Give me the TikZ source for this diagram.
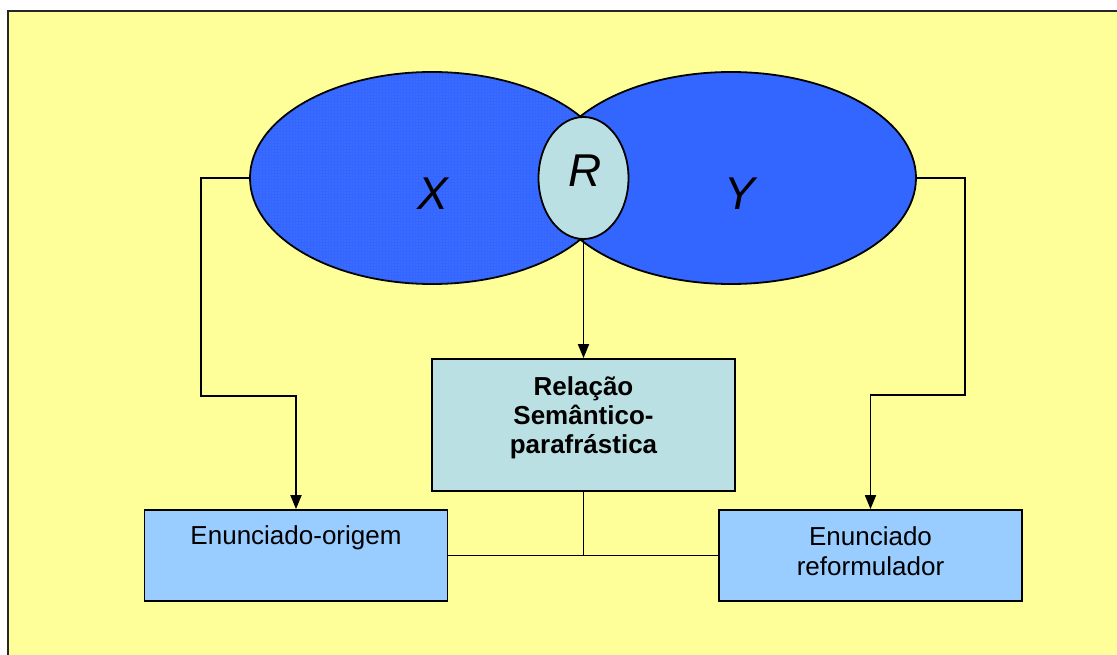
\documentclass[tikz,border=0pt]{standalone}
\usepackage{fontspec}
\setmainfont{Liberation Sans}
\usetikzlibrary{arrows.meta,positioning,shapes.geometric,patterns.meta}
\definecolor{bgyellow}{RGB}{255,255,153}
\definecolor{setblue}{RGB}{51,102,255}
\definecolor{relteal}{RGB}{187,224,227}
\definecolor{unitblue}{RGB}{153,204,255}
\definecolor{speck}{RGB}{140,170,245}

\begin{document}
\begin{tikzpicture}[
  x=1pt, y=-1pt,
  frame/.style={draw=black!85, line width=2.5pt, fill=bgyellow},
  set/.style={ellipse, draw=black, line width=1.8pt, inner sep=0pt,
              minimum height=212pt},
  box/.style={draw=black, line width=1.8pt, minimum width=303pt, inner sep=0pt},
  unit/.style={box, fill=unitblue, minimum height=91pt},
  rel/.style={box, fill=relteal, minimum height=132pt},
  big/.style={font=\fontsize{46}{50}\selectfont\itshape, inner sep=0pt},
  txt/.style={font=\fontsize{26}{30}\selectfont, align=center, inner sep=0pt},
  arr/.style={-{Triangle[length=14pt,width=11pt]}, line width=1.8pt},
  ln/.style={line width=1.8pt},
]

%% ---- PAGE + FRAME ----
\useasboundingbox (0,0) rectangle (1117,655);
\clip (0,0) rectangle (1117,655);
\draw[frame] (8,11) rectangle (1140,680);

%% ---- SETS X, Y AND RELATION R ----
\node[set, fill=setblue, minimum width=364pt,
      postaction={pattern={Dots[distance=3pt, radius=0.3pt]}, pattern color=speck}]
      (xset) at (432,178) {};
\node[set, fill=setblue, minimum width=370pt] (yset) at (731,178) {};
\node[set, fill=relteal, minimum width=90pt, minimum height=122pt] (rset) at (583.5,178) {};

\node[big] (xlbl) at (433,194) {X};
\node[big] (ylbl) at (740,194) {Y};
\node[big] (rlbl) at (585,171) {R};

%% ---- BOXES ----
\node[rel]  (relbox) at (583.5,425)  {};
\node[unit] (origem) at (296,555.5)  {};
\node[unit] (reform) at (870.5,555.5) {};

\node[txt, font=\fontsize{26}{29}\selectfont\bfseries, below=18pt of relbox.north] (reltxt)
  {Relação\\Semântico-\\parafrástica};
\node[txt, below=16pt of origem.north] (origtxt) {Enunciado-origem};
\node[txt, below=17pt of reform.north] (reftxt) {Enunciado\\reformulador};

%% ---- CONNECTORS ----
\draw[arr] (xset.west) -- ++(-48,0) |- ([yshift=113pt]origem.north) -- (origem.north);
\draw[arr] (yset.east) -- ++(48,0) |- ([yshift=114pt]reform.north) -- (reform.north);
\draw[arr] (rset.south) -- (relbox.north);

\draw[ln] (origem.east) -- (reform.west);
\draw[ln] (relbox.south) -- (relbox.south |- origem.east);

\end{tikzpicture}
\end{document}
